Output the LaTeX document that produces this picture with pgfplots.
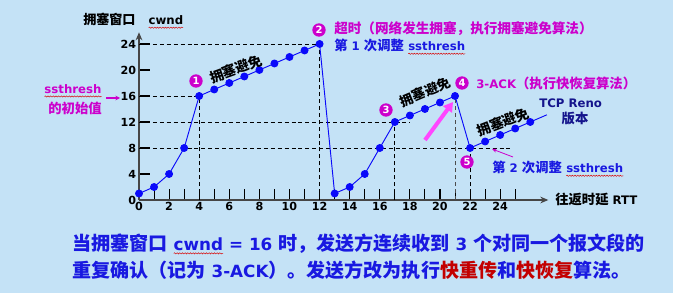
\documentclass[border=0pt]{standalone}
\usepackage{fontspec}
\setmainfont{DejaVu Sans}[Scale=0.88]
\newfontfamily\cjk{Noto Sans CJK SC}
\usepackage{pgfplots}
\pgfplotsset{compat=1.18}
\usetikzlibrary{arrows.meta,decorations.pathmorphing}
\definecolor{bg}{RGB}{196,226,246}
\definecolor{mag}{RGB}{204,0,204}
\definecolor{myblue}{RGB}{25,25,225}
\definecolor{navy}{RGB}{20,20,140}
\definecolor{ptblue}{RGB}{10,10,250}
\definecolor{axgray}{RGB}{70,70,70}
\definecolor{dred}{RGB}{195,0,0}
\definecolor{pinkarrow}{RGB}{255,70,255}
\newcommand\wavy[1]{\tikz[baseline=(w.base)]{\node[inner sep=0pt,outer sep=0pt](w){#1};\draw[red!85!black,line width=0.35pt,decorate,decoration={snake,amplitude=0.45pt,segment length=2pt}]([yshift=-2pt]w.south west)--([yshift=-2pt]w.south east);}}
\newcommand\fa{\bfseries\fontsize{10}{12}\selectfont}
\begin{document}
\begin{tikzpicture}
\fill[bg] (0,0) rectangle (504.75pt,219.75pt);
\begin{axis}[
  at={(104.25pt,69.75pt)}, anchor=south west, scale only axis,
  width=307pt, height=125.8pt,
  xmin=0, xmax=27.2, ymin=0, ymax=25.8,
  axis lines=left,
  axis line style={axgray,line width=1.2pt,-{Stealth[length=6pt,width=5pt]}},
  clip=false,
  tick align=inside,
  major tick length=8pt,
  tick style={black,line width=0.8pt},
  xtick={0,...,25},
  xticklabels={0,,2,,4,,6,,8,,10,,12,,14,,16,,18,,20,,22,,24,},
  ytick={0,4,...,24},
  ticklabel style={font=\bfseries\fontsize{9.5}{11}\selectfont, black},
  /pgf/number format/assume math mode=true,
  xticklabel style={inner sep=1.5pt},
  yticklabel style={inner sep=2pt},
]
\addplot[black,dash pattern=on 3pt off 2.2pt,line width=0.6pt] coordinates {(0,24)(12,24)};
\addplot[black,dash pattern=on 3pt off 2.2pt,line width=0.6pt] coordinates {(0,16)(4,16)};
\addplot[black,dash pattern=on 3pt off 2.2pt,line width=0.6pt] coordinates {(0,12)(18,12)};
\addplot[black,dash pattern=on 3pt off 2.2pt,line width=0.6pt] coordinates {(0,8)(24.8,8)};
\addplot[black,dash pattern=on 3pt off 2.2pt,line width=0.6pt] coordinates {(4,0)(4,16)};
\addplot[black,dash pattern=on 3pt off 2.2pt,line width=0.6pt] coordinates {(12,0)(12,24)};
\addplot[black,dash pattern=on 3pt off 2.2pt,line width=0.6pt] coordinates {(17,0)(17,12)};
\addplot[black!70,dash pattern=on 3pt off 2.2pt,line width=0.6pt] coordinates {(21,0)(21,16)};
\addplot[black,dash pattern=on 3pt off 2.2pt,line width=0.6pt] coordinates {(22,0)(22,8)};
\addplot[ptblue,line width=0.7pt] coordinates {(26,12)(27.1,13.1)};
\addplot[ptblue,line width=0.7pt,mark=*,mark size=2.6pt,mark options={fill=ptblue,draw=ptblue}] coordinates {
(0,1)(1,2)(2,4)(3,8)(4,16)(5,17)(6,18)(7,19)(8,20)(9,21)(10,22)(11,23)(12,24)
(13,1)(14,2)(15,4)(16,8)(17,12)(18,13)(19,14)(20,15)(21,16)
(22,8)(23,9)(24,10)(25,11)(26,12)};
\end{axis}
\begin{scope}[x=0.75pt,y=-0.75pt,yshift=219.75pt]
% title
\node[anchor=west,inner sep=0pt,font=\fa] at (83,21) {{\cjk\fontsize{9.8}{11}\selectfont 拥塞窗口}\hspace{1.1em}\wavy{cwnd}};
% ssthresh initial
\node[anchor=center,inner sep=0pt,font=\fa,text=mag] at (73,91) {\wavy{ssthresh}};
\node[anchor=center,inner sep=0pt,font=\fa\cjk,text=mag] at (75,108) {的初始值};
\draw[mag,line width=0.8pt,-{Stealth[length=3.5pt,width=3.5pt]}] (106,98) -- (120,98);
% circles
\foreach \n/\cx/\cy in {1/196/81,2/319/30,3/386/110,4/462/83,5/467/162}
  \node[circle,fill=mag,text=white,inner sep=0pt,minimum size=10pt,font=\bfseries\fontsize{8.5}{9}\selectfont] at (\cx,\cy) {\n};
% rotated labels
\node[rotate=20,inner sep=0pt,font=\fa\cjk\fontsize{10.3}{12}\selectfont] at (236,69) {拥塞避免};
\node[rotate=23,inner sep=0pt,font=\fa\cjk\fontsize{10}{12}\selectfont] at (425,92) {拥塞避免};
\node[rotate=21,inner sep=0pt,font=\fa\cjk\fontsize{10.3}{12}\selectfont] at (503,122) {拥塞避免};
% texts
\node[anchor=west,inner sep=0pt,font=\fa\cjk\fontsize{10.2}{12}\selectfont,text=mag] at (334,29) {超时（网络发生拥塞，执行拥塞避免算法）};
\node[anchor=west,inner sep=0pt,font=\fa,text=myblue] at (334,47) {{\cjk 第} 1 {\cjk 次调整} \wavy{ssthresh}};
\node[anchor=west,inner sep=0pt,font=\fa,text=mag] at (476,83) {3-ACK{\cjk（执行快恢复算法）}};
\node[anchor=west,inner sep=0pt,font=\fa,text=navy] at (539,103) {TCP Reno};
\node[anchor=center,inner sep=0pt,font=\fa\cjk,text=navy] at (575,119) {版本};
\node[anchor=west,inner sep=0pt,font=\fa,text=myblue] at (492,169) {{\cjk 第} 2 {\cjk 次调整} \wavy{ssthresh}};
\draw[mag,line width=0.6pt,-{Stealth[length=3.5pt,width=3pt]}] (513,157) -- (492,149);
\draw[pinkarrow,line width=3pt,-{Triangle[length=7pt,width=8pt]}] (425,140) -- (453,102);
\node[anchor=west,inner sep=0pt,font=\fa] at (555,199) {{\cjk 往返时延} RTT};
% bottom text
\node[anchor=west,inner sep=0pt,font=\bfseries\fontsize{14.3}{16}\selectfont,text=myblue] at (72,244) {{\cjk 当拥塞窗口} \wavy{cwnd} = 16 {\cjk 时，发送方连续收到} 3 {\cjk 个对同一个报文段的}};
\node[anchor=west,inner sep=0pt,font=\bfseries\fontsize{14.3}{16}\selectfont,text=myblue] at (72,270) {{\cjk 重复确认（记为} 3-ACK{\cjk ）。发送方改为执行\textcolor{dred}{快重传}和\textcolor{dred}{快恢复}算法。}};
\end{scope}
\end{tikzpicture}
\end{document}
